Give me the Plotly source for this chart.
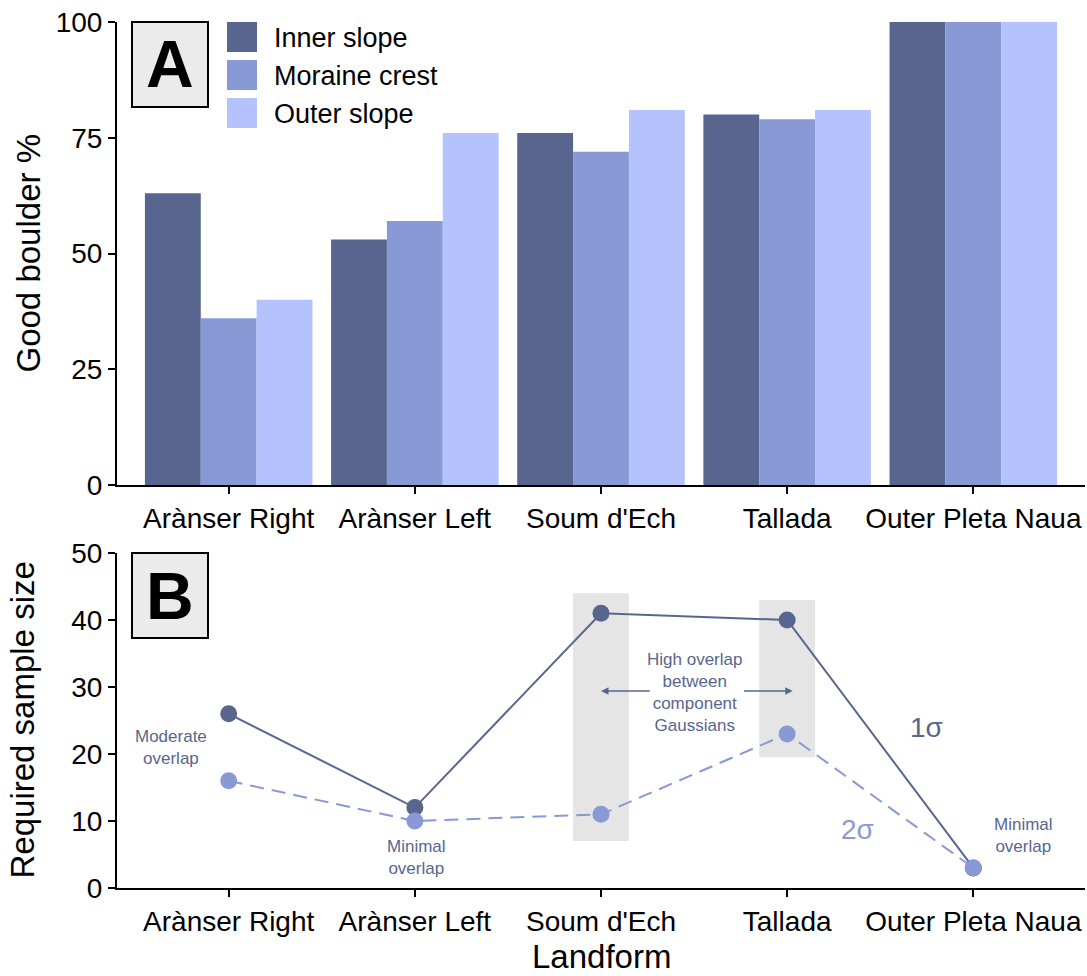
import plotly.graph_objects as go

landforms = ["Arànser Right", "Arànser Left", "Soum d'Ech", "Tallada", "Outer Pleta Naua"]
series_names = ["Inner slope", "Moraine crest", "Outer slope"]
series_colors = ["#58668F", "#8899D6", "#B4C3FE"]
inner_slope = [63, 53, 76, 80, 100]
moraine_crest = [36, 57, 72, 79, 100]
outer_slope = [40, 76, 81, 81, 100]
bar_values = [inner_slope, moraine_crest, outer_slope]

sigma1 = [26, 12, 41, 40, 3]
sigma2 = [16, 10, 11, 23, 3]
sigma1_color = "#58668F"
sigma2_color = "#8899D6"

# grey highlight bands (category, y-low, y-high)
bands = [("Soum d'Ech", 7, 44), ("Tallada", 19.5, 43)]

FONT = "Liberation Sans, Arial, sans-serif"
W, H = 1087, 976
ML, MR, MT, MB = 117, 2, 22, 88
PW, PH = W - ML - MR, H - MT - MB
# panel pixel positions (from top)
A_top, A_bot = 22, 485
B_top, B_bot = 553, 888
def pdom(top, bot):
    return [(H - MB - bot) / PH, (H - MB - top) / PH]

fig = go.Figure()

for name, vals, col in zip(series_names, bar_values, series_colors):
    fig.add_trace(go.Bar(x=landforms, y=vals, name=name, marker=dict(color=col, line=dict(width=0)),
                         showlegend=False, xaxis="x", yaxis="y"))

fig.add_trace(go.Scatter(x=landforms, y=sigma1, mode="lines+markers", name="1σ",
                         line=dict(color=sigma1_color, width=2),
                         marker=dict(color=sigma1_color, size=17),
                         showlegend=False, xaxis="x2", yaxis="y2"))
fig.add_trace(go.Scatter(x=landforms, y=sigma2, mode="lines+markers", name="2σ",
                         line=dict(color=sigma2_color, width=2, dash="14px,8px"),
                         marker=dict(color=sigma2_color, size=17),
                         showlegend=False, xaxis="x2", yaxis="y2"))

shapes = []
annotations = []

# grey bands
for cat, ylo, yhi in bands:
    i = landforms.index(cat)
    shapes.append(dict(type="rect", xref="x2", yref="y2", x0=i - 0.15, x1=i + 0.15, y0=ylo, y1=yhi,
                       fillcolor="#E5E5E5", line=dict(width=0), layer="below"))

# panel label boxes
box_w, box_h = 76, 85
for lab, xr, yr, ptop, pbot in [("A", "x", "y", A_top, A_bot), ("B", "x2", "y2", B_top, B_bot)]:
    ph = pbot - ptop
    x0 = 15 / PW
    x1 = (15 + box_w) / PW
    y1 = 1
    y0 = 1 - box_h / ph
    shapes.append(dict(type="rect", xref=xr + " domain", yref=yr + " domain", x0=x0, x1=x1, y0=y0, y1=y1,
                       fillcolor="#EBEBEB", line=dict(color="black", width=2)))
    annotations.append(dict(text="<b>%s</b>" % lab, xref=xr + " domain", yref=yr + " domain",
                            x=(x0 + x1) / 2, y=(y0 + y1) / 2, xanchor="center", yanchor="middle",
                            showarrow=False, font=dict(family=FONT, size=66, color="black")))

# custom legend for panel A
phA = A_bot - A_top
for k, (name, col) in enumerate(zip(series_names, series_colors)):
    top = 38 * k
    shapes.append(dict(type="rect", xref="x domain", yref="y domain",
                       x0=110 / PW, x1=140 / PW, y0=1 - (top + 30) / phA, y1=1 - top / phA,
                       fillcolor=col, line=dict(width=0)))
    annotations.append(dict(text=name, xref="x domain", yref="y domain", x=155 / PW,
                            y=1 - (top + 16) / phA, xanchor="left", yanchor="middle", showarrow=False,
                            font=dict(family=FONT, size=27, color="black")))

# panel B annotations
txt_col = "#58668F"
annotations += [
    dict(text="High overlap<br>between<br>component<br>Gaussians", x=2.5, y=29.2, xref="x2", yref="y2",
         showarrow=False, font=dict(family=FONT, size=17, color=txt_col), align="center"),
    dict(text="Moderate<br>overlap", x=-0.31, y=20.9, xref="x2", yref="y2",
         showarrow=False, font=dict(family=FONT, size=17, color=txt_col), align="center"),
    dict(text="Minimal<br>overlap", x=1.01, y=4.6, xref="x2", yref="y2",
         showarrow=False, font=dict(family=FONT, size=17, color=txt_col), align="center"),
    dict(text="Minimal<br>overlap", x=4.27, y=7.8, xref="x2", yref="y2",
         showarrow=False, font=dict(family=FONT, size=17, color=txt_col), align="center"),
    dict(text="1σ", x=3.75, y=24, xref="x2", yref="y2",
         showarrow=False, font=dict(family=FONT, size=28, color=sigma1_color)),
    dict(text="2σ", x=3.38, y=8.7, xref="x2", yref="y2",
         showarrow=False, font=dict(family=FONT, size=28, color=sigma2_color)),
    dict(text="", x=2.0, y=29.4, ax=2.27, ay=29.4, xref="x2", yref="y2", axref="x2", ayref="y2",
         showarrow=True, arrowhead=2, arrowsize=1, arrowwidth=1.5, arrowcolor=txt_col),
    dict(text="", x=3.03, y=29.4, ax=2.76, ay=29.4, xref="x2", yref="y2", axref="x2", ayref="y2",
         showarrow=True, arrowhead=2, arrowsize=1, arrowwidth=1.5, arrowcolor=txt_col),
]

# axis titles
annotations += [
    dict(text="Good boulder %", xref="paper", yref="y domain", x=(28 - ML) / PW, y=0.5, textangle=-90,
         xanchor="center", yanchor="middle", showarrow=False, font=dict(family=FONT, size=33, color="black")),
    dict(text="Required sample size", xref="paper", yref="y2 domain", x=(22 - ML) / PW, y=0.5, textangle=-90,
         xanchor="center", yanchor="middle", showarrow=False, font=dict(family=FONT, size=33, color="black")),
    dict(text="Landform", xref="x2 domain", yref="paper", x=0.5, y=(H - MB - 957) / PH,
         xanchor="center", yanchor="middle", showarrow=False, font=dict(family=FONT, size=33, color="black")),
]

axis_common = dict(showline=True, linecolor="black", linewidth=2, ticks="outside", ticklen=7,
                   tickwidth=2, tickcolor="black", showgrid=False, zeroline=False,
                   tickfont=dict(family=FONT, size=28, color="black"))

fig.update_layout(
    width=W, height=H, margin=dict(l=ML, r=MR, t=MT, b=MB, autoexpand=False),
    paper_bgcolor="white", plot_bgcolor="white",
    barmode="group", bargap=0.1, bargroupgap=0,
    showlegend=False,
    xaxis=dict(domain=[0, 1], anchor="y", type="category", categoryorder="array", categoryarray=landforms,
               range=[-0.6, 4.6], **axis_common),
    yaxis=dict(domain=pdom(A_top, A_bot), anchor="x", range=[0, 100], tickvals=[0, 25, 50, 75, 100],
               **axis_common),
    xaxis2=dict(domain=[0, 1], anchor="y2", type="category", categoryorder="array", categoryarray=landforms,
                range=[-0.6, 4.6], **axis_common),
    yaxis2=dict(domain=pdom(B_top, B_bot), anchor="x2", range=[0, 50], tickvals=[0, 10, 20, 30, 40, 50],
                **axis_common),
    shapes=shapes, annotations=annotations,
    font=dict(family=FONT, color="black"),
)

fig.write_html("out.html", config={"displayModeBar": False},
               post_script="document.body.style.margin='0px';document.body.style.overflow='hidden';")
